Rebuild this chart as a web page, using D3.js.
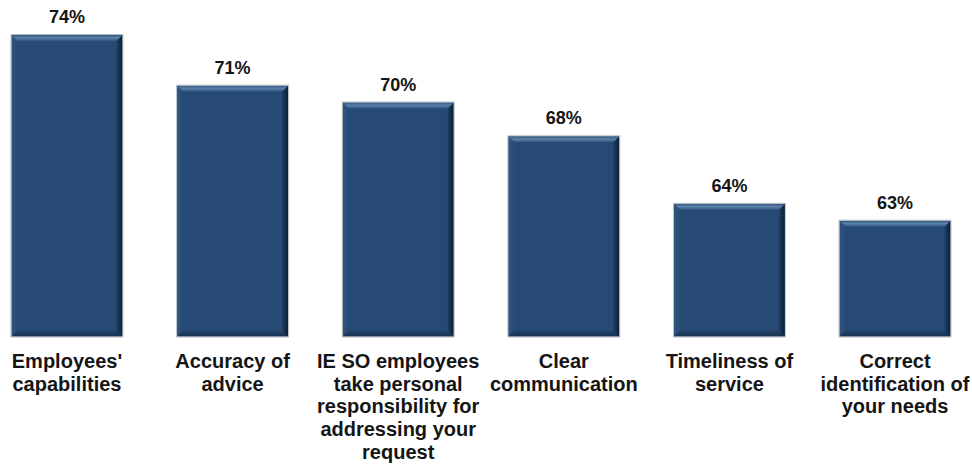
<!DOCTYPE html>
<html>
<head>
<meta charset="utf-8">
<script src="https://cdn.jsdelivr.net/npm/d3@7"></script>
<style>
  html, body { margin: 0; padding: 0; background: #ffffff; }
  svg { display: block; font-family: "Liberation Sans", Arial, sans-serif; }
</style>
</head>
<body>
<svg id="chart" width="972" height="466"></svg>
<script>
// Survey attributes, each with its share of satisfied respondents (%)
const categories = [
  ["Employees'", "capabilities"],
  ["Accuracy of", "advice"],
  ["IE SO employees", "take personal", "responsibility for", "addressing your", "request"],
  ["Clear", "communication"],
  ["Timeliness of", "service"],
  ["Correct", "identification of", "your needs"]
];
const values = [74, 71, 70, 68, 64, 63];

const width = 972, height = 466;
const baseY = 336.5, topY = 35;

const svg = d3.select("#chart");

const x = d3.scaleBand()
  .domain(d3.range(categories.length))
  .range([11.5, 950.5])
  .paddingInner(0.33)
  .paddingOuter(0);

const y = d3.scaleLinear()
  .domain([56.14, 74])
  .range([baseY, topY]);

// Gradients for the bevelled bar edges
const defs = svg.append("defs");
const gTop = defs.append("linearGradient").attr("id", "bevTop")
  .attr("x1", 0).attr("y1", 0).attr("x2", 0).attr("y2", 1);
gTop.append("stop").attr("offset", 0).attr("stop-color", "#2c527e");
gTop.append("stop").attr("offset", 0.45).attr("stop-color", "#5d81a8");
gTop.append("stop").attr("offset", 1).attr("stop-color", "#30557f");

const gRight = defs.append("linearGradient").attr("id", "bevRight")
  .attr("x1", 0).attr("y1", 0).attr("x2", 1).attr("y2", 0);
gRight.append("stop").attr("offset", 0).attr("stop-color", "#1f3f63");
gRight.append("stop").attr("offset", 1).attr("stop-color", "#0c1f36");

const gLeft = defs.append("linearGradient").attr("id", "bevLeft")
  .attr("x1", 0).attr("y1", 0).attr("x2", 1).attr("y2", 0);
gLeft.append("stop").attr("offset", 0).attr("stop-color", "#2f5680");
gLeft.append("stop").attr("offset", 1).attr("stop-color", "#264a73");

const gBottom = defs.append("linearGradient").attr("id", "bevBottom")
  .attr("x1", 0).attr("y1", 0).attr("x2", 0).attr("y2", 1);
gBottom.append("stop").attr("offset", 0).attr("stop-color", "#22446b");
gBottom.append("stop").attr("offset", 1).attr("stop-color", "#173252");

const bev = 6;
const bars = svg.append("g").selectAll("g.bar")
  .data(values)
  .join("g")
  .attr("class", "bar");

bars.each(function (v, i) {
  const g = d3.select(this);
  const x0 = x(i), x1 = x(i) + x.bandwidth();
  const y0 = y(v), y1 = y.range()[0];
  g.append("rect")
    .attr("x", x0).attr("y", y0)
    .attr("width", x1 - x0).attr("height", y1 - y0)
    .attr("fill", "#264a73");
  // left bevel
  g.append("path")
    .attr("d", `M${x0},${y0}L${x0 + bev},${y0 + bev}L${x0 + bev},${y1 - bev}L${x0},${y1}Z`)
    .attr("fill", "url(#bevLeft)");
  // bottom bevel
  g.append("path")
    .attr("d", `M${x0},${y1}L${x0 + bev},${y1 - bev}L${x1 - bev},${y1 - bev}L${x1},${y1}Z`)
    .attr("fill", "url(#bevBottom)");
  // right bevel
  g.append("path")
    .attr("d", `M${x1},${y0}L${x1 - bev},${y0 + bev}L${x1 - bev},${y1 - bev}L${x1},${y1}Z`)
    .attr("fill", "url(#bevRight)");
  // top bevel
  g.append("path")
    .attr("d", `M${x0},${y0}L${x1},${y0}L${x1 - bev},${y0 + bev}L${x0 + bev},${y0 + bev}Z`)
    .attr("fill", "url(#bevTop)");
  // thin light outline
  g.append("rect")
    .attr("x", x0 - 0.5).attr("y", y0 - 0.5)
    .attr("width", x1 - x0 + 1).attr("height", y1 - y0 + 1)
    .attr("fill", "none")
    .attr("stroke", "#b9bec4")
    .attr("stroke-width", 1);
});

// Value labels above the bars
svg.append("g").selectAll("text")
  .data(values)
  .join("text")
  .attr("x", (d, i) => x(i) + x.bandwidth() / 2)
  .attr("y", d => y(d) - 12)
  .attr("text-anchor", "middle")
  .attr("font-size", 18)
  .attr("font-weight", "bold")
  .attr("fill", "#151515")
  .text(d => d + "%");

// Category labels beneath the bars
const lineH = 22.7;
const cat = svg.append("g").selectAll("text")
  .data(categories)
  .join("text")
  .attr("x", (d, i) => x(i) + x.bandwidth() / 2)
  .attr("y", baseY + 31.5)
  .attr("text-anchor", "middle")
  .attr("font-size", 20)
  .attr("font-weight", "bold")
  .attr("fill", "#151515");
cat.each(function (lines, i) {
  const t = d3.select(this);
  lines.forEach((ln, k) => {
    t.append("tspan")
      .attr("x", x(i) + x.bandwidth() / 2)
      .attr("y", baseY + 31.5 + k * lineH)
      .text(ln);
  });
});
</script>
</body>
</html>
